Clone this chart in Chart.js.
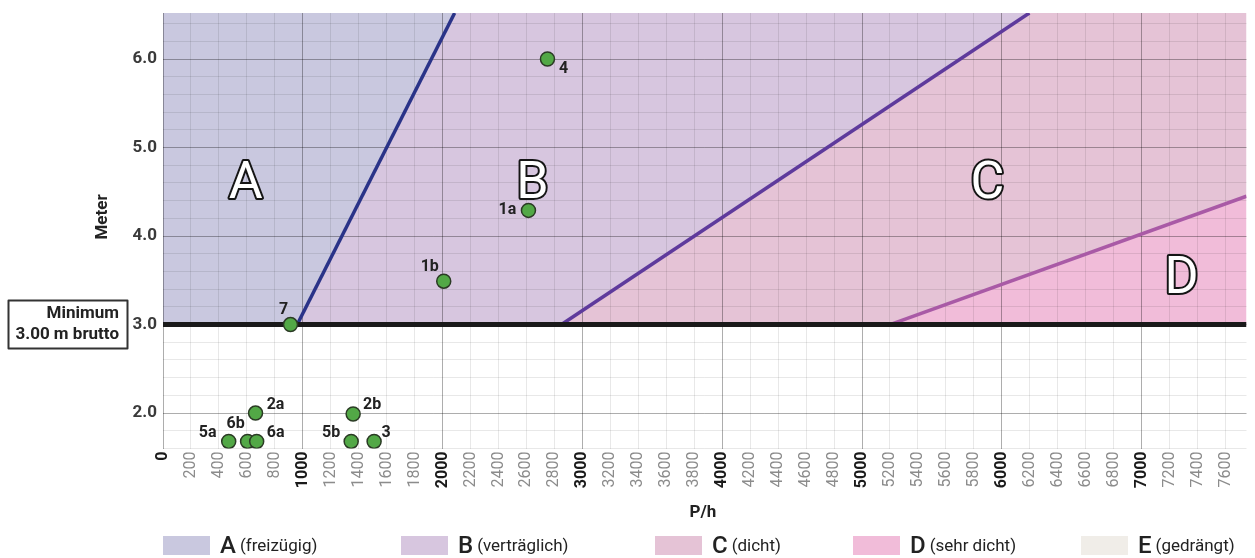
<!DOCTYPE html>
<html><head><meta charset="utf-8">
<script src="https://cdn.jsdelivr.net/npm/chart.js@4"></script>
<style>
html,body{margin:0;padding:0;background:#fff;}
#wrap{position:relative;width:1255px;height:558px;overflow:hidden;}
#legend{position:absolute;left:0;top:534px;height:22px;width:1255px;font-family:Roboto,sans-serif;}
.item{position:absolute;top:0;display:flex;align-items:center;height:22px;white-space:nowrap;color:#222;}
.sw{width:47px;height:19px;margin-right:10px;}
.big{font-size:24px;font-weight:500;margin-right:4px;}
.small{font-size:17px;}
</style></head>
<body><div id="wrap"><canvas id="c" width="1255" height="558"></canvas><div id="legend"></div></div>
<script>
// ---- data ----
const zoneLetters = ['A', 'B', 'C', 'D', 'E'];
const zoneNames = ['(freizügig)', '(verträglich)', '(dicht)', '(sehr dicht)', '(gedrängt)'];
const zoneColors = ['#c9c8df', '#d7c6df', '#e5c3d6', '#f1bcd9', '#f0ede8'];

const pointNames = ['7', '4', '1a', '1b', '2a', '2b', '5a', '6b', '6a', '5b', '3'];
const pointX = [912, 2750, 2614, 2008, 662, 1360, 470, 605, 670, 1346, 1510];
const pointY = [3.0, 6.0, 4.29, 3.49, 2.0, 1.99, 1.68, 1.68, 1.68, 1.68, 1.68];

const lineABx = [960, 2086];  const lineABy = [3.0, 6.52];
const lineBCx = [2850, 6197]; const lineBCy = [3.0, 6.52];
const lineCDx = [5200, 7750]; const lineCDy = [3.0, 4.45];
const minLineX = [0, 7750];   const minLineY = [3.0, 3.0];

const zoneLabelX = [591, 2642, 5897, 7286];
const zoneLabelY = [4.60, 4.60, 4.60, 3.53];

const yTickLabels = ['2.0', '3.0', '4.0', '5.0', '6.0'];
const xMin = 0, xMax = 7750, yMin = 1.6, yMax = 6.52;

// ---- styles / placement ----
const FONT = 'Roboto, sans-serif';
const labelOffsets = {
  '7': [-7, -15], '4': [16, 10], '1a': [-21, 0], '1b': [-14, -14], '2a': [20, -8],
  '2b': [19, -9], '5a': [-21, -8], '6b': [-12, -17], '6a': [19, -8], '5b': [-20, -8], '3': [12, -8]
};

const pts = (xs, ys) => xs.map((x, i) => ({x: x, y: ys[i]}));

// legend
const lg = document.getElementById('legend');
const legendLeft = [163, 401, 655, 853, 1081];
zoneLetters.forEach((l, i) => {
  const d = document.createElement('div');
  d.className = 'item';
  d.style.left = legendLeft[i] + 'px';
  d.innerHTML = '<div class="sw" style="background:' + zoneColors[i] + '"></div><span class="big">' + l + '</span><span class="small">' + zoneNames[i] + '</span>';
  lg.appendChild(d);
});

const zonePlugin = {
  id: 'zones',
  beforeDraw(chart) {
    const {ctx, chartArea: a, scales: {x, y}} = chart;
    const P = (vx, vy) => [x.getPixelForValue(vx), y.getPixelForValue(vy)];
    const polys = [
      [[xMin, 3], [lineABx[0], lineABy[0]], [lineABx[1], lineABy[1]], [xMin, yMax]],
      [[lineABx[0], lineABy[0]], [lineBCx[0], lineBCy[0]], [lineBCx[1], lineBCy[1]], [lineABx[1], lineABy[1]]],
      [[lineBCx[0], lineBCy[0]], [lineCDx[0], lineCDy[0]], [lineCDx[1], lineCDy[1]], [xMax, yMax], [lineBCx[1], lineBCy[1]]],
      [[lineCDx[0], lineCDy[0]], [xMax, 3], [lineCDx[1], lineCDy[1]]]
    ];
    ctx.save();
    ctx.beginPath(); ctx.rect(a.left, a.top, a.right - a.left, a.bottom - a.top); ctx.clip();
    polys.forEach((poly, i) => {
      ctx.beginPath();
      poly.forEach((p, j) => { const q = P(p[0], p[1]); j ? ctx.lineTo(q[0], q[1]) : ctx.moveTo(q[0], q[1]); });
      ctx.closePath();
      ctx.fillStyle = zoneColors[i];
      ctx.fill();
    });
    ctx.restore();
  },
  afterDraw(chart) {
    const {ctx, scales: {x, y}} = chart;
    ctx.save();
    // point labels
    ctx.font = 'bold 16px ' + FONT;
    ctx.fillStyle = '#222';
    ctx.textAlign = 'center'; ctx.textBaseline = 'middle';
    pointNames.forEach((n, i) => {
      const o = labelOffsets[n] || [0, -14];
      ctx.fillText(n, x.getPixelForValue(pointX[i]) + o[0], y.getPixelForValue(pointY[i]) + o[1]);
    });
    // zone letters
    ctx.font = '52px ' + FONT;
    ctx.lineWidth = 4; ctx.strokeStyle = '#151515'; ctx.fillStyle = '#fff'; ctx.lineJoin = 'round';
    zoneLabelX.forEach((vx, i) => {
      const px = x.getPixelForValue(vx), py = y.getPixelForValue(zoneLabelY[i]) + 2;
      ctx.strokeText(zoneLetters[i], px, py);
      ctx.fillText(zoneLetters[i], px, py);
    });
    // axis titles
    ctx.fillStyle = '#222';
    ctx.font = 'bold 17px ' + FONT;
    ctx.fillText('P/h', 703, 513);
    ctx.save();
    ctx.translate(103, 217); ctx.rotate(-Math.PI / 2);
    ctx.fillText('Meter', 0, 0);
    ctx.restore();
    // minimum box
    ctx.lineWidth = 2; ctx.strokeStyle = '#333';
    ctx.strokeRect(8.5, 300.5, 119, 48);
    ctx.textAlign = 'right';
    ctx.fillStyle = '#222';
    ctx.font = 'bold 17px ' + FONT;
    ctx.fillText('Minimum', 119, 314);
    ctx.fillText('3.00 m brutto', 119, 335);
    ctx.restore();
  }
};

const isMajorX = v => Math.abs(v % 1000) < 1e-6;
const isMajorY = v => Math.abs(v - Math.round(v)) < 1e-6;

new Chart(document.getElementById('c'), {
  type: 'scatter',
  data: {
    datasets: [
      {label: 'Punkte', data: pts(pointX, pointY), order: 0,
       pointRadius: 7, pointHoverRadius: 7, backgroundColor: '#52a846', borderColor: '#2b3b25', borderWidth: 1.5},
      {type: 'line', label: 'AB', data: pts(lineABx, lineABy), order: 2, borderColor: '#2a3388', borderWidth: 3.5, pointRadius: 0, fill: false},
      {type: 'line', label: 'BC', data: pts(lineBCx, lineBCy), order: 2, borderColor: '#5e3a9c', borderWidth: 3.5, pointRadius: 0, fill: false},
      {type: 'line', label: 'CD', data: pts(lineCDx, lineCDy), order: 2, borderColor: '#a95aa6', borderWidth: 3.5, pointRadius: 0, fill: false},
      {type: 'line', label: 'Minimum', data: pts(minLineX, minLineY), order: 1, borderColor: '#1a1a1a', borderWidth: 5, pointRadius: 0, fill: false}
    ]
  },
  options: {
    responsive: false, animation: false, events: [],
    layout: {padding: {left: 0, right: 5, top: 13, bottom: 0}},
    plugins: {legend: {display: false}, tooltip: {enabled: false}},
    scales: {
      x: {
        type: 'linear', min: xMin, max: xMax,
        afterBuildTicks(s) { const t = []; for (let v = 0; v <= 7600; v += 200) t.push({value: v}); s.ticks = t; },
        afterFit(s) { s.height = 109.5; s.paddingLeft = 0; s.paddingRight = 0; },
        border: {display: false},
        grid: {drawTicks: false, lineWidth: 1,
               color: c => (c.tick && isMajorX(c.tick.value)) ? 'rgba(0,0,0,0.32)' : 'rgba(0,0,0,0.09)'},
        ticks: {autoSkip: false, minRotation: 90, maxRotation: 90, padding: 3,
                callback: v => String(v),
                font: c => ({family: FONT, size: 16, weight: (c.tick && isMajorX(c.tick.value)) ? 'bold' : 'normal'}),
                color: c => (c.tick && isMajorX(c.tick.value)) ? '#1a1a1a' : '#8c8c8c'}
      },
      y: {
        type: 'linear', min: yMin, max: yMax,
        afterBuildTicks(s) { const t = []; for (let k = 8; k <= 32; k++) t.push({value: Math.round(k * 2) / 10}); s.ticks = t; },
        afterFit(s) { s.width = 163; s.paddingTop = 0; s.paddingBottom = 0; },
        border: {display: false},
        grid: {drawTicks: false, lineWidth: 1,
               color: c => (c.tick && isMajorY(c.tick.value)) ? 'rgba(0,0,0,0.32)' : 'rgba(0,0,0,0.09)'},
        ticks: {autoSkip: false, padding: 6,
                callback: v => { const s = Number(v).toFixed(1); return yTickLabels.includes(s) ? s : ''; },
                font: {family: FONT, size: 17, weight: 'bold'}, color: '#3a3a3a'}
      }
    }
  },
  plugins: [zonePlugin]
});
</script>
</body></html>
